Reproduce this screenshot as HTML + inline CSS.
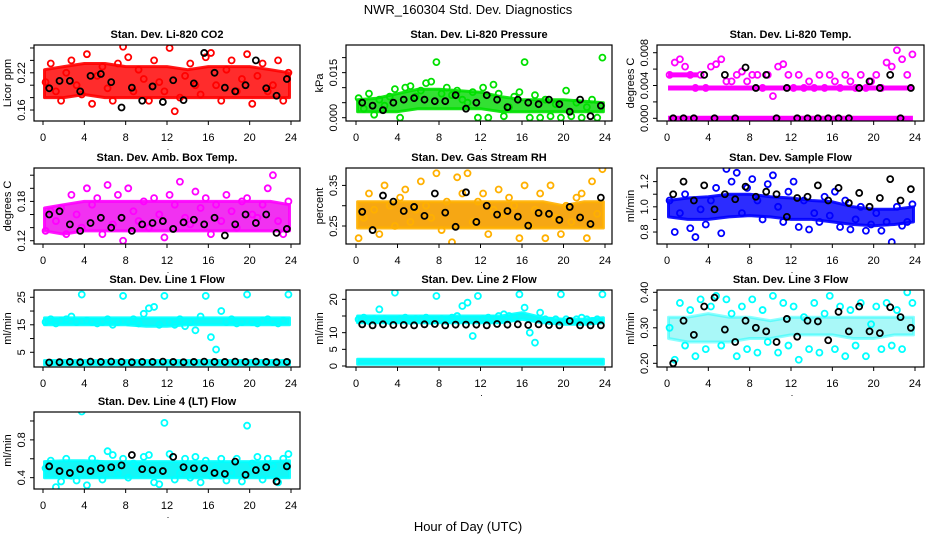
<!DOCTYPE html>
<html><head><meta charset="utf-8"><style>
html,body{margin:0;padding:0;background:#fff;}
svg{display:block;font-family:"Liberation Sans",sans-serif;}
</style></head><body>
<svg id="chart" width="936" height="540" viewBox="0 0 936 540" xmlns="http://www.w3.org/2000/svg">
<rect width="936" height="540" fill="#fff"/>
<text x="468" y="14" font-size="13" text-anchor="middle">NWR_160304  Std. Dev. Diagnostics</text>
<text x="468" y="531" font-size="13" text-anchor="middle">Hour of Day (UTC)</text>
</svg>
<script>
// ---- data (hour of day vs std. dev.) ----
const xTicks = [0,4,8,12,16,20,24];
const bandHours = [0,2,4,6,8,10,12,14,16,18,20,22,24];

const co2BandLo = [0.18,0.18,0.185,0.18,0.18,0.18,0.18,0.18,0.18,0.18,0.18,0.18,0.18];
const co2BandHi = [0.225,0.23,0.235,0.235,0.23,0.23,0.23,0.225,0.23,0.23,0.23,0.225,0.22];
const co2Color = [0.205,0.235,0.19,0.175,0.22,0.24,0.2,0.185,0.25,0.17,0.215,0.23,0.195,0.175,0.235,0.262,0.245,0.19,0.225,0.21,0.175,0.24,0.205,0.19,0.26,0.158,0.18,0.215,0.235,0.2,0.185,0.245,0.252,0.2,0.175,0.225,0.24,0.19,0.21,0.25,0.17,0.215,0.235,0.19,0.2,0.24,0.175,0.22];
const co2Black = [0.195,0.207,0.207,0.19,0.215,0.218,0.205,0.164,0.196,0.175,0.198,0.173,0.208,0.176,0.203,0.252,0.22,0.196,0.19,0.2,0.24,0.195,0.183,0.21];

const presBandLo = [0.002,0.002,0.002,0.003,0.003,0.003,0.003,0.002,0.002,0.002,0.002,0.002,0.002];
const presBandHi = [0.006,0.0065,0.008,0.0095,0.0095,0.009,0.0085,0.007,0.006,0.006,0.006,0.0055,0.005];
const presColor = [0.0065,0.003,0.008,0.001,0.006,0.004,0.007,0.0095,0.0,0.01,0.0105,0.007,0.009,0.0115,0.012,0.0185,0.008,0.01,0.0075,0.009,0.006,0.005,0.0085,0.0,0.01,0.0,0.011,0.008,0.0005,0.0035,0.007,0.0085,0.0185,0.0,0.0075,0.0,0.006,0.0005,0.0045,0.0,0.009,0.0005,0.005,0.0,0.0035,0.006,0.0,0.02];
const presBlack = [0.005,0.004,0.0025,0.005,0.006,0.0065,0.006,0.0055,0.0055,0.0075,0.003,0.005,0.0075,0.006,0.0035,0.006,0.005,0.0045,0.006,0.0045,0.002,0.006,0.0005,0.004];

const tempRowLevels = [0,0.0037,0.0053];
const tempRowStart = [0.1,0.1,0.1];
const tempRowEnd = [23.8,23.8,3.0];
const tempColor = [0.0053,0.0068,0.0072,0.0063,0.0053,0.0037,0.0053,0.0037,0.0063,0.0066,0.0072,0.0045,0.0045,0.0053,0.0057,0.0045,0.0053,0.0053,0.0037,0.0053,0.0027,0.0063,0.0066,0.0053,0.0037,0.0053,0.0037,0.0045,0.0037,0.0053,0.0037,0.0053,0.0045,0.0037,0.0053,0.0045,0.0037,0.0053,0.0037,0.0045,0.0053,0.0037,0.0068,0.0063,0.0083,0.0072,0.0053,0.0078];
const tempBlack = [0,0,0,0.0053,0,0.0053,0,0.0062,0.0037,0.0053,0,0.0037,0,0,0,0,0,0,0.0037,0.0045,0.0037,0.0053,0,0.0037];

const boxBandLo = [0.135,0.13,0.135,0.135,0.135,0.135,0.135,0.135,0.135,0.135,0.135,0.135,0.135];
const boxBandHi = [0.17,0.175,0.18,0.18,0.18,0.18,0.18,0.18,0.18,0.18,0.18,0.18,0.175];
const boxColor = [0.135,0.165,0.15,0.17,0.13,0.19,0.16,0.14,0.2,0.175,0.185,0.13,0.205,0.145,0.19,0.12,0.2,0.165,0.15,0.18,0.14,0.185,0.16,0.125,0.19,0.175,0.21,0.155,0.145,0.195,0.17,0.185,0.13,0.175,0.15,0.19,0.165,0.14,0.18,0.185,0.16,0.155,0.175,0.2,0.22,0.15,0.13,0.18];
const boxBlack = [0.16,0.165,0.145,0.135,0.147,0.155,0.14,0.155,0.135,0.145,0.147,0.15,0.138,0.148,0.152,0.145,0.155,0.128,0.145,0.16,0.147,0.16,0.132,0.138];

const rhBandLo = [0.245,0.245,0.245,0.245,0.245,0.245,0.245,0.245,0.245,0.245,0.245,0.245,0.245];
const rhBandHi = [0.31,0.31,0.31,0.31,0.31,0.31,0.31,0.31,0.31,0.31,0.30,0.31,0.31];
const rhColor = [0.22,0.27,0.33,0.29,0.23,0.35,0.3,0.25,0.32,0.34,0.26,0.29,0.36,0.3,0.27,0.38,0.24,0.31,0.21,0.37,0.33,0.38,0.26,0.31,0.33,0.23,0.29,0.34,0.28,0.32,0.3,0.22,0.35,0.25,0.29,0.33,0.22,0.35,0.27,0.23,0.3,0.26,0.32,0.33,0.22,0.36,0.28,0.39];
const rhBlack = [0.285,0.24,0.325,0.31,0.287,0.297,0.275,0.33,0.283,0.248,0.333,0.26,0.3,0.278,0.287,0.273,0.251,0.282,0.28,0.265,0.297,0.271,0.255,0.32];

const flowBandLo = [0.92,0.9,0.9,0.92,0.93,0.92,0.9,0.9,0.88,0.86,0.85,0.86,0.88];
const flowBandHi = [1.05,1.07,1.08,1.1,1.1,1.08,1.07,1.05,1.04,1.0,0.98,0.98,1.0];
const flowColor = [1.05,0.8,0.95,1.1,0.83,0.76,0.98,0.86,1.05,1.15,0.79,1.3,1.2,1.27,0.95,1.15,1.22,1.05,0.9,1.18,1.25,1.0,0.88,1.12,1.2,0.84,1.05,0.82,0.95,0.88,1.08,0.93,1.12,0.84,1.05,0.82,0.9,1.0,0.81,0.86,0.95,0.81,0.88,0.72,1.0,0.85,0.88,1.02];
const flowBlack = [1.1,1.2,1.05,1.17,0.98,1.1,1.06,1.16,1.08,1.12,1.1,0.92,1.07,1.08,1.17,1.05,1.15,1.03,1.11,1.0,1.07,1.22,1.05,1.14];

const line1BandLo = [15,15,15,15,15,14.5,14.5,15,15,15,15,15,15];
const line1BandHi = [17.5,17.5,17.5,17.5,17.5,17.5,17.5,17.5,17.5,17.5,17.5,17.5,17.5];
const line1Band2Lo = [0.5,0.5,0.5,0.5,0.5,0.5,0.5,0.5,0.5,0.5,0.5,0.5,0.5];
const line1Band2Hi = [2,2,2,2,2,2,2,2,2,2,2,2,2];
const line1Color = [16,17,15.5,16.5,17,18,16,26,16.5,16,15.5,16,17,15,16,25.5,16,17,15.5,19,21,21.5,15,25.5,16,15,17,14.5,16,13,18,25.5,10.5,6,20,16,17,15.5,16,26,16,15.5,16.5,17,16,15.5,16.5,26];
const line1Black = [1.3,1.4,1.5,1.4,1.6,1.5,1.6,1.5,1.4,1.5,1.5,1.6,1.5,1.4,1.5,1.6,1.5,1.5,1.6,1.5,1.6,1.5,1.4,1.5];

const line2BandLo = [13,13,13,13,13,13,13,13,14,13,12.5,12.5,13];
const line2BandHi = [15,15,15,15,15,15,15,15,16,14.5,14,14,14.5];
const line2Band2Lo = [0.5,0.5,0.5,0.5,0.5,0.5,0.5,0.5,0.5,0.5,0.5,0.5,0.5];
const line2Band2Hi = [2,2,2,2,2,2,2,2,2,2,2,2,2];
const line2Color = [14,14.5,13.5,14,17,14,13.5,22,14,14.5,13.5,14,14,14.5,13.5,21,14,13.5,14.5,15,18,19,9,21,14,14.5,14,15,15.5,15,14.5,21.5,17.5,10,7,16,14,13.5,14,21.5,14,13.5,14,14.5,14,13.5,14,21.5];
const line2Black = [12.5,12.2,12.5,12.3,12.3,12.2,12.5,12.6,12.2,12.4,12.4,12.4,12.2,12.6,12.4,12.5,12.3,12.5,12.3,12.2,13.5,12.2,12.2,12.2];

const line3BandLo = [0.27,0.26,0.26,0.26,0.27,0.27,0.28,0.28,0.28,0.27,0.27,0.28,0.28];
const line3BandHi = [0.33,0.33,0.34,0.33,0.33,0.32,0.33,0.33,0.33,0.33,0.33,0.33,0.33];
const line3Color = [0.3,0.21,0.37,0.25,0.35,0.22,0.38,0.24,0.36,0.39,0.25,0.38,0.34,0.22,0.36,0.24,0.38,0.23,0.35,0.26,0.39,0.23,0.37,0.25,0.36,0.21,0.33,0.24,0.37,0.23,0.34,0.39,0.24,0.36,0.22,0.35,0.25,0.37,0.22,0.31,0.36,0.24,0.37,0.25,0.35,0.24,0.4,0.37];
const line3Black = [0.2,0.32,0.28,0.36,0.385,0.295,0.26,0.32,0.3,0.29,0.26,0.325,0.275,0.32,0.318,0.265,0.345,0.29,0.36,0.29,0.285,0.358,0.33,0.3];

const line4BandLo = [0.4,0.4,0.4,0.4,0.4,0.4,0.4,0.4,0.4,0.4,0.4,0.4,0.4];
const line4BandHi = [0.57,0.58,0.58,0.57,0.57,0.57,0.57,0.57,0.57,0.57,0.57,0.57,0.58];
const line4Color = [0.5,0.58,0.3,0.36,0.6,0.42,0.37,1.1,0.32,0.6,0.55,0.38,0.68,0.64,0.45,0.6,0.4,0.55,0.5,0.62,0.64,0.35,0.33,0.98,0.65,0.38,0.45,0.6,0.4,0.62,0.35,0.58,0.42,0.5,0.6,0.37,0.45,0.6,0.36,0.95,0.55,0.62,0.38,0.6,0.52,0.35,0.6,0.65];
const line4Black = [0.52,0.47,0.45,0.49,0.47,0.5,0.51,0.53,0.64,0.49,0.48,0.47,0.62,0.51,0.5,0.5,0.45,0.44,0.57,0.43,0.48,0.51,0.36,0.52];

// ---- layout ----
const cols = [{L:34,R:300,x0:43,x24:291},{L:346,R:612,x0:356,x24:605},{L:657,R:924,x0:667,x24:915}];
const rows = [[45,121],[168,244],[290,367],[412,489]];

const panels = [
 {name:'co2',title:'Stan. Dev. Li-820 CO2',ytitle:'Licor ppm',c:0,r:0,lo:0.1423,hi:0.2648,ticks:[0.16,0.18,0.2,0.22,0.24,0.26],labels:[[0.16,'0.16'],[0.22,'0.22']],color:'#ff0000',fill:'#ff1a1a',bands:[[co2BandLo,co2BandHi]],pts:co2Color,blk:co2Black},
 {name:'pressure',title:'Stan. Dev. Li-820 Pressure',ytitle:'kPa',c:1,r:0,lo:-0.0011,hi:0.0242,ticks:[0,0.005,0.01,0.015,0.02],labels:[[0,'0.000'],[0.015,'0.015']],color:'#00e000',fill:'#22dd22',bands:[[presBandLo,presBandHi]],pts:presColor,blk:presBlack},
 {name:'li820-temp',title:'Stan. Dev. Li-820 Temp.',ytitle:'degrees C',c:2,r:0,lo:-0.00033,hi:0.00894,ticks:[0,0.002,0.004,0.006,0.008],labels:[[0,'0.000'],[0.004,'0.004'],[0.008,'0.008']],color:'#ff00ff',fill:'#ff00ff',bands:[],rowsLv:true,pts:tempColor,blk:tempBlack},
 {name:'amb-box-temp',title:'Stan. Dev. Amb. Box Temp.',ytitle:'degrees C',c:0,r:1,lo:0.115,hi:0.231,ticks:[0.12,0.14,0.16,0.18,0.2,0.22],labels:[[0.12,'0.12'],[0.18,'0.18']],color:'#ff00ff',fill:'#f020f0',bands:[[boxBandLo,boxBandHi]],pts:boxColor,blk:boxBlack},
 {name:'gas-stream-rh',title:'Stan. Dev. Gas Stream RH',ytitle:'percent',c:1,r:1,lo:0.2057,hi:0.3929,ticks:[0.25,0.3,0.35],labels:[[0.25,'0.25'],[0.35,'0.35']],color:'#ffb000',fill:'#f5a000',bands:[[rhBandLo,rhBandHi]],pts:rhColor,blk:rhBlack},
 {name:'sample-flow',title:'Stan. Dev. Sample Flow',ytitle:'ml/min',c:2,r:1,lo:0.705,hi:1.308,ticks:[0.8,0.9,1.0,1.1,1.2],labels:[[0.8,'0.8'],[1.0,'1.0'],[1.2,'1.2']],color:'#0000ff',fill:'#1a1aff',bands:[[flowBandLo,flowBandHi]],pts:flowColor,blk:flowBlack},
 {name:'line1-flow',title:'Stan. Dev. Line 1 Flow',ytitle:'ml/min',c:0,r:2,lo:-0.35,hi:27.65,ticks:[5,10,15,20,25],labels:[[5,'5'],[15,'15'],[25,'25']],color:'#00ffff',fill:'#00f5f5',bands:[[line1BandLo,line1BandHi],[line1Band2Lo,line1Band2Hi]],pts:line1Color,blk:line1Black},
 {name:'line2-flow',title:'Stan. Dev. Line 2 Flow',ytitle:'ml/min',c:1,r:2,lo:-0.3,hi:22.8,ticks:[0,5,10,15,20],labels:[[0,'0'],[5,'5'],[10,'10'],[20,'20']],color:'#00ffff',fill:'#00f5f5',bands:[[line2BandLo,line2BandHi],[line2Band2Lo,line2Band2Hi]],pts:line2Color,blk:line2Black},
 {name:'line3-flow',title:'Stan. Dev. Line 3 Flow',ytitle:'ml/min',c:2,r:2,lo:0.1896,hi:0.4065,ticks:[0.2,0.25,0.3,0.35,0.4],labels:[[0.2,'0.20'],[0.3,'0.30'],[0.4,'0.40']],color:'#00ffff',fill:'#40f0f0',bandOp:0.45,bands:[[line3BandLo,line3BandHi]],pts:line3Color,blk:line3Black},
 {name:'line4-flow',title:'Stan. Dev. Line 4 (LT) Flow',ytitle:'ml/min',c:0,r:3,lo:0.28,hi:1.095,ticks:[0.4,0.6,0.8,1.0],labels:[[0.4,'0.4'],[0.8,'0.8']],color:'#00ffff',fill:'#00f5f5',bands:[[line4BandLo,line4BandHi]],pts:line4Color,blk:line4Black}
];

const NS='http://www.w3.org/2000/svg';
const svg=document.getElementById('chart');
function mk(tag,attrs,parent){const e=document.createElementNS(NS,tag);for(const k in attrs)e.setAttribute(k,attrs[k]);(parent||svg).appendChild(e);return e;}

panels.forEach(p=>{
  const col=cols[p.c], top=rows[p.r][0], bot=rows[p.r][1];
  const xs=h=>col.x0+h/24*(col.x24-col.x0);
  const ys=v=>bot-(v-p.lo)/(p.hi-p.lo)*(bot-top);
  const g=mk('g',{});
  
  
  const clipId='clip-'+p.name;
  const cp=mk('clipPath',{id:clipId},g);
  mk('rect',{x:col.L,y:top,width:col.R-col.L,height:bot-top},cp);
  const plot=mk('g',{'clip-path':'url(#'+clipId+')'},g);
  
  
  p.bands.forEach((b,bi)=>{
    let d='';
    bandHours.forEach((h,i)=>{const hh=Math.min(Math.max(h,0.15),23.85);d+=(i?'L':'M')+xs(hh).toFixed(1)+','+ys(b[1][i]).toFixed(1);});
    for(let i=bandHours.length-1;i>=0;i--){const hh=Math.min(Math.max(bandHours[i],0.15),23.85);d+='L'+xs(hh).toFixed(1)+','+ys(b[0][i]).toFixed(1);}
    const path=mk('path',{d:d+'Z',fill:p.fill,'fill-opacity':p.bandOp||0.92,stroke:p.color,'stroke-width':3,'stroke-opacity':p.bandOp||0.9,'stroke-linejoin':'round'},plot);
    
    
  });
  if(p.rowsLv){
    tempRowLevels.forEach((lv,i)=>{
      const ln=mk('line',{x1:xs(tempRowStart[i]),x2:xs(tempRowEnd[i]),y1:ys(lv),y2:ys(lv),stroke:p.color,'stroke-width':5},plot);
      
      
    });
  }
  p.pts.forEach((v,i)=>{
    const c=mk('circle',{cx:xs(i*0.5+0.25),cy:ys(v),r:3,fill:'none',stroke:p.color,'stroke-width':1.8},plot);
    
    
  });
  p.blk.forEach((v,i)=>{
    const c=mk('circle',{cx:xs(i+0.6),cy:ys(v),r:3,fill:'none',stroke:'#000','stroke-width':1.8},plot);
    
    
  });
  const box=mk('rect',{x:col.L,y:top,width:col.R-col.L,height:bot-top,fill:'none',stroke:'#000','stroke-width':1.2},g);
  
  
  xTicks.forEach(t=>{
    const x=xs(t);
    mk('line',{x1:x,x2:x,y1:bot,y2:bot+4,stroke:'#000','stroke-width':1},g);
    const tx=mk('text',{x:x,y:bot+20,'font-size':11,'text-anchor':'middle'},g);
    tx.textContent=String(t);
    
    
  });
  const dot=mk('text',{x:xs(12)+1,y:bot+29,'font-size':9,'text-anchor':'middle'},g);
  dot.textContent='.';
  p.ticks.forEach(t=>{const y=ys(t);mk('line',{x1:col.L-4,x2:col.L,y1:y,y2:y,stroke:'#000','stroke-width':1},g);});
  p.labels.forEach(l=>{
    const y=ys(l[0]);
    const tx=mk('text',{x:col.L-9,y:y,'font-size':11,'text-anchor':'middle',transform:'rotate(-90 '+(col.L-9)+' '+y+')'},g);
    tx.textContent=l[1];
    
    
  });
  const cy=(top+bot)/2;
  const yt=mk('text',{x:col.L-23,y:cy,'font-size':11,'text-anchor':'middle',transform:'rotate(-90 '+(col.L-23)+' '+cy+')'},g);
  yt.textContent=p.ytitle;
  
  
  const tt=mk('text',{x:(col.L+col.R)/2,y:top-7,'font-size':11,'font-weight':'bold','text-anchor':'middle'},g);
  tt.textContent=p.title;
  
  
});
</script>
</body></html>
